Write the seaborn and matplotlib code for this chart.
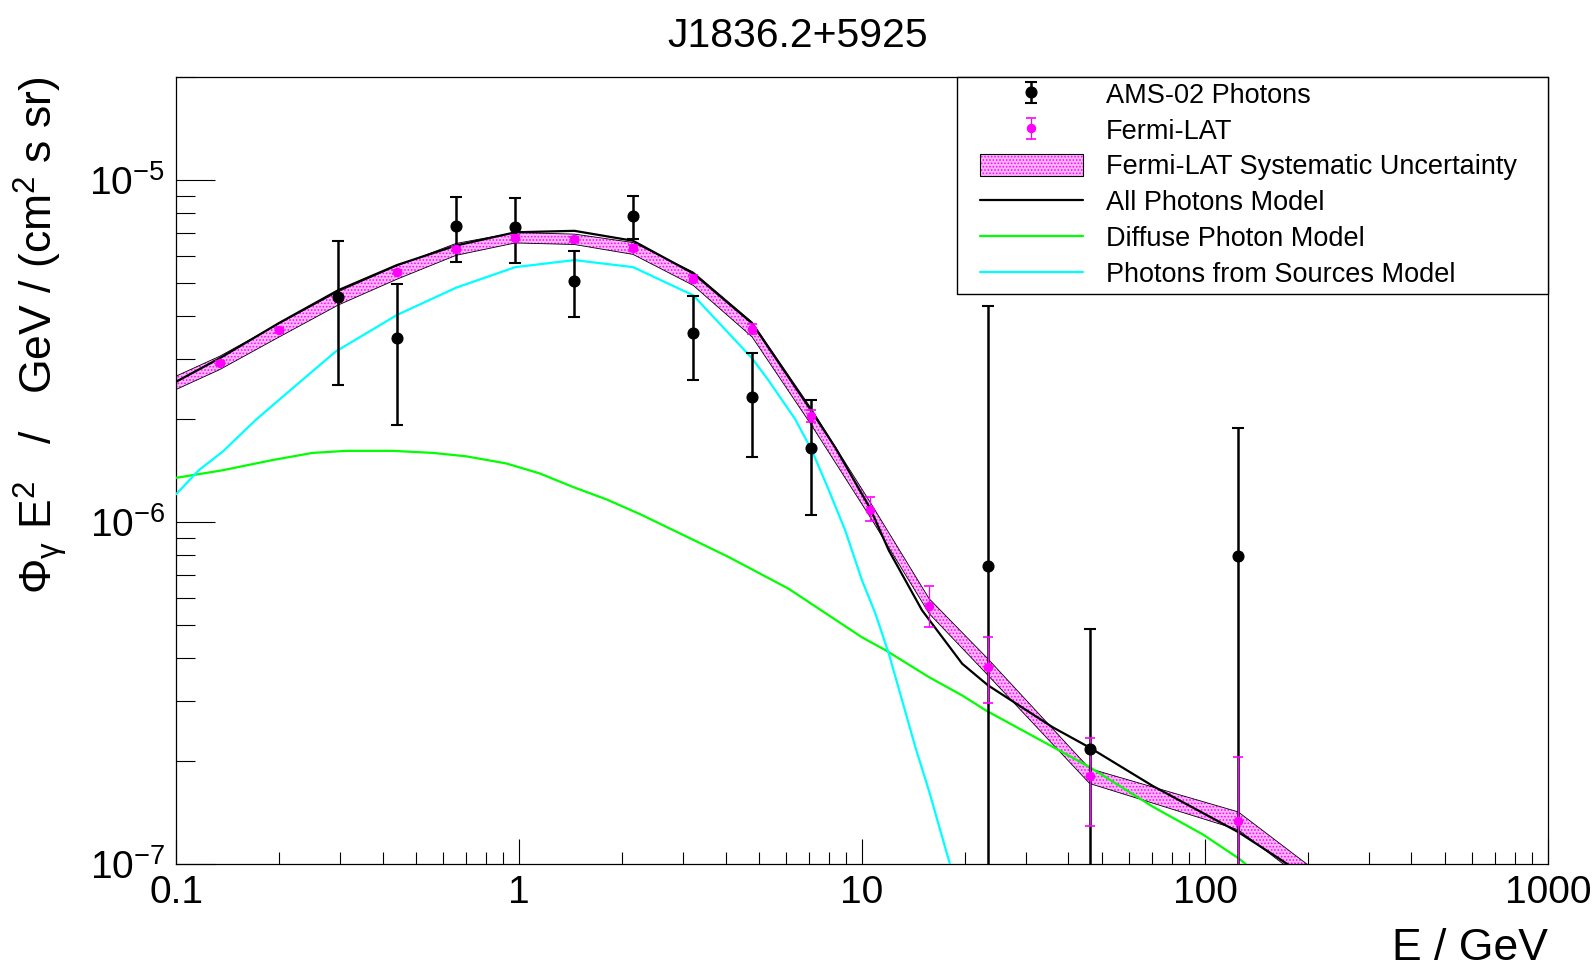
import numpy as np
import pandas as pd
import matplotlib
matplotlib.use('Agg')
import matplotlib.pyplot as plt
import matplotlib.patches as mpatches
from matplotlib.container import ErrorbarContainer
from matplotlib.legend_handler import HandlerTuple, HandlerLine2D, HandlerErrorbar
from matplotlib.ticker import LogLocator, NullFormatter
import seaborn as sns

title = 'J1836.2+5925'

# AMS-02 photons: energy (GeV), E^2 flux and error bar bounds
ams_e = [0.297, 0.441, 0.655, 0.975, 1.45, 2.15, 3.22, 4.78, 7.10, 23.3, 46.1, 125]
ams_f = [4.55e-6, 3.44e-6, 7.32e-6, 7.27e-6, 5.06e-6, 7.85e-6, 3.58e-6, 2.32e-6,
         1.65e-6, 7.43e-7, 2.17e-7, 7.94e-7]
ams_hi = [6.63e-6, 4.97e-6, 8.93e-6, 8.87e-6, 6.19e-6, 9.0e-6, 4.58e-6, 3.12e-6,
          2.27e-6, 4.28e-6, 4.87e-7, 1.88e-6]
ams_lo = [2.52e-6, 1.92e-6, 5.77e-6, 5.73e-6, 3.98e-6, 6.7e-6, 2.60e-6, 1.55e-6,
          1.05e-6, 1e-8, 1e-8, 1e-8]

# Fermi-LAT points (first and last lie outside the visible range)
fermi_e = [0.0905, 0.134, 0.199, 0.297, 0.441, 0.655, 0.975, 1.45, 2.15, 3.22,
           4.78, 7.10, 10.57, 15.7, 23.3, 46.1, 125, 250]
fermi_f = [2.44e-6, 2.92e-6, 3.63e-6, 4.51e-6, 5.37e-6, 6.27e-6, 6.78e-6, 6.71e-6,
           6.31e-6, 5.15e-6, 3.66e-6, 2.04e-6, 1.087e-6, 5.68e-7, 3.77e-7,
           1.81e-7, 1.34e-7, 7.9e-8]
fermi_hi = [2.48e-6, 2.96e-6, 3.68e-6, 4.57e-6, 5.44e-6, 6.35e-6, 6.88e-6, 6.82e-6,
            6.45e-6, 5.29e-6, 3.79e-6, 2.13e-6, 1.18e-6, 6.5e-7, 4.6e-7,
            2.33e-7, 2.05e-7, 8.3e-8]
fermi_lo = [2.40e-6, 2.88e-6, 3.58e-6, 4.45e-6, 5.30e-6, 6.19e-6, 6.68e-6, 6.60e-6,
            6.18e-6, 5.02e-6, 3.54e-6, 1.96e-6, 1.007e-6, 4.93e-7, 2.96e-7,
            1.29e-7, 9e-8, 6e-8]
# relative systematic uncertainty
fermi_sys = [0.045, 0.045, 0.045, 0.045, 0.045, 0.04, 0.035, 0.035, 0.04, 0.045,
             0.05, 0.055, 0.05, 0.05, 0.055, 0.05, 0.06, 0.06]

# model curves
all_e = [0.1, 0.134, 0.199, 0.297, 0.441, 0.655, 0.975, 1.45, 2.15, 3.22, 4.78,
         7.10, 8.36, 10.57, 11.97, 14.96, 19.6, 23.3, 36.0, 46.1, 70.5, 125, 165, 200]
all_f = [2.57e-6, 3.01e-6, 3.81e-6, 4.76e-6, 5.64e-6, 6.43e-6, 7.03e-6, 7.10e-6,
         6.64e-6, 5.33e-6, 3.81e-6, 2.12e-6, 1.65e-6, 1.094e-6, 8.26e-7, 5.52e-7,
         3.85e-7, 3.33e-7, 2.51e-7, 2.19e-7, 1.69e-7, 1.24e-7, 1.035e-7, 9.1e-8]

diffuse_e = [0.1, 0.1365, 0.191, 0.250, 0.313, 0.4285, 0.561, 0.701, 0.918, 1.148,
             1.439, 1.80, 2.254, 2.818, 4.074, 6.11, 10.0, 11.7, 15.67, 19.6, 23.0,
             36.0, 46.1, 70.5, 98.6, 126, 141]
diffuse_f = [1.346e-6, 1.416e-6, 1.517e-6, 1.592e-6, 1.614e-6, 1.614e-6, 1.592e-6,
             1.556e-6, 1.483e-6, 1.387e-6, 1.265e-6, 1.164e-6, 1.054e-6, 9.46e-7,
             7.91e-7, 6.38e-7, 4.60e-7, 4.22e-7, 3.52e-7, 3.11e-7, 2.81e-7,
             2.20e-7, 1.92e-7, 1.47e-7, 1.22e-7, 1.035e-7, 9.4e-8]

sources_e = [0.1, 0.1164, 0.1365, 0.1706, 0.196, 0.292, 0.441, 0.655, 0.975, 1.45,
             2.15, 3.22, 4.78, 5.33, 6.38, 7.14, 8.0, 8.93, 10.0, 10.94, 11.97,
             13.09, 14.32, 15.67, 17.14, 18.1, 19.5]
sources_f = [1.205e-6, 1.416e-6, 1.603e-6, 1.986e-6, 2.24e-6, 3.15e-6, 4.03e-6,
             4.84e-6, 5.56e-6, 5.83e-6, 5.56e-6, 4.60e-6, 3.01e-6, 2.60e-6,
             2.0e-6, 1.62e-6, 1.24e-6, 9.46e-7, 6.75e-7, 5.40e-7, 4.12e-7,
             3.01e-7, 2.19e-7, 1.64e-7, 1.197e-7, 9.89e-8, 8.5e-8]

sns.set_theme(style='ticks')
plt.rcParams['font.family'] = ['Liberation Sans', 'DejaVu Sans']
plt.rcParams['mathtext.fontset'] = 'custom'
plt.rcParams['mathtext.rm'] = 'Liberation Sans'
plt.rcParams['mathtext.it'] = 'Liberation Sans:italic'
plt.rcParams['mathtext.bf'] = 'Liberation Sans:bold'
plt.rcParams['hatch.linewidth'] = 0.8
plt.rcParams['hatch.color'] = '#ff00ff'
plt.rcParams['text.color'] = 'black'
plt.rcParams['axes.labelcolor'] = 'black'

fig = plt.figure(figsize=(15.96, 9.72), dpi=100)
ax = fig.add_axes([0.1103, 0.1111, 0.8596, 0.8097])
ax.set_xscale('log')
ax.set_yscale('log')

band_face = '#ffb8ff'

# systematic band
fe = np.array(fermi_e)
ff = np.array(fermi_f)
fs = np.array(fermi_sys)
band_hi = ff * (1 + fs)
band_lo = ff * (1 - fs)
ax.fill_between(fe, band_lo, band_hi, facecolor=band_face, edgecolor='#ff00ff',
                hatch='.....', linewidth=0, zorder=2)
ax.plot(fe, band_hi, color='black', lw=0.6, zorder=2.1)
ax.plot(fe, band_lo, color='black', lw=0.6, zorder=2.1)

# models
models = pd.DataFrame({
    'E': all_e + diffuse_e + sources_e,
    'F': all_f + diffuse_f + sources_f,
    'model': (['All Photons Model'] * len(all_e) + ['Diffuse Photon Model'] * len(diffuse_e)
              + ['Photons from Sources Model'] * len(sources_e)),
})
palette = {'All Photons Model': 'black', 'Diffuse Photon Model': '#00ff00',
           'Photons from Sources Model': '#00ffff'}
sns.lineplot(data=models, x='E', y='F', hue='model', palette=palette, lw=1.6,
             estimator=None, sort=True, ax=ax, legend=False, zorder=3)

# AMS-02 points
ae = np.array(ams_e)
af = np.array(ams_f)
ams = ax.errorbar(ae, af, yerr=[af - np.array(ams_lo), np.array(ams_hi) - af],
                  fmt='o', color='black', ms=7.7, elinewidth=1.8, capsize=4,
                  capthick=1.5, zorder=4)
ams.lines[0].set_zorder(6)

# Fermi points
fermi = ax.errorbar(fe, ff, yerr=[ff - np.array(fermi_lo), np.array(fermi_hi) - ff],
                    fmt='o', color='#ff00ff', ms=5.8, elinewidth=0.9, capsize=3.5,
                    capthick=1.2, zorder=5)

ax.set_xlim(0.1, 1000)
ax.set_ylim(1e-7, 2e-5)

ax.set_xticks([0.1, 1, 10, 100, 1000], labels=['0.1', '1', '10', '100', '1000'])
ax.set_yticks([1e-7, 1e-6, 1e-5], labels=[r'$10^{-7}$', r'$10^{-6}$', r'$10^{-5}$'])
ax.xaxis.set_minor_locator(LogLocator(base=10, subs=np.arange(2, 10), numticks=50))
ax.yaxis.set_minor_locator(LogLocator(base=10, subs=np.arange(2, 10), numticks=50))
ax.xaxis.set_minor_formatter(NullFormatter())
ax.yaxis.set_minor_formatter(NullFormatter())

ax.tick_params(axis='x', which='major', direction='in', length=18, width=0.8,
               labelsize=28, pad=8, colors='black', top=False, bottom=True)
ax.tick_params(axis='x', which='minor', direction='in', length=9, width=0.8,
               colors='black', top=False, bottom=True)
ax.tick_params(axis='y', which='major', direction='in', length=28, width=0.8,
               labelsize=28, pad=8, colors='black', right=False, left=True)
ax.tick_params(axis='y', which='minor', direction='in', length=14, width=0.8,
               colors='black', right=False, left=True)
for sp in ax.spines.values():
    sp.set_visible(True)
    sp.set_color('black')
    sp.set_linewidth(0.9)

ax.set_xlabel('E / GeV', fontsize=32)
ax.xaxis.set_label_coords(1.0, -0.122)
ax.xaxis.label.set_ha('right')
ax.xaxis.label.set_va('baseline')

ax.set_ylabel(r'$\Phi_{\mathrm{\gamma}}\ \mathrm{E}^{2}$   /   GeV / (cm$^{2}$ s sr)',
              fontsize=32)
ax.yaxis.set_label_coords(-0.0991, 1.0)
ax.yaxis.label.set_ha('right')
ax.yaxis.label.set_va('center')

fig.suptitle(title, x=0.5, y=0.963, va='center', fontsize=29.5)

band_handle = (mpatches.Patch(facecolor=band_face, edgecolor='#ff00ff', hatch='.....', lw=0),
               mpatches.Patch(facecolor='none', edgecolor='black', lw=0.8))
handles = [ams, fermi, band_handle,
           plt.Line2D([], [], color='black', lw=1.6),
           plt.Line2D([], [], color='#00ff00', lw=1.6),
           plt.Line2D([], [], color='#00ffff', lw=1.6)]
labels = ['AMS-02 Photons', 'Fermi-LAT', 'Fermi-LAT Systematic Uncertainty',
          'All Photons Model', 'Diffuse Photon Model', 'Photons from Sources Model']
hpad = 0.62
leg = ax.legend(handles, labels, loc='upper left',
                bbox_to_anchor=(0.5695, 0.5, 0.4305, 0.5), mode='expand',
                fontsize=19.5, frameon=True, fancybox=False, framealpha=1,
                edgecolor='black', borderaxespad=0, borderpad=0.2,
                labelspacing=0.36, handlelength=4.45, handleheight=0.85,
                handletextpad=0.83,
                handler_map={tuple: HandlerTuple(ndivide=1, pad=0, xpad=hpad),
                             ErrorbarContainer: HandlerErrorbar(xpad=hpad, yerr_size=0.38),
                             plt.Line2D: HandlerLine2D(xpad=hpad)})
leg.get_frame().set_linewidth(1.0)
leg.set_zorder(10)

plt.savefig('out.png', dpi=100)
